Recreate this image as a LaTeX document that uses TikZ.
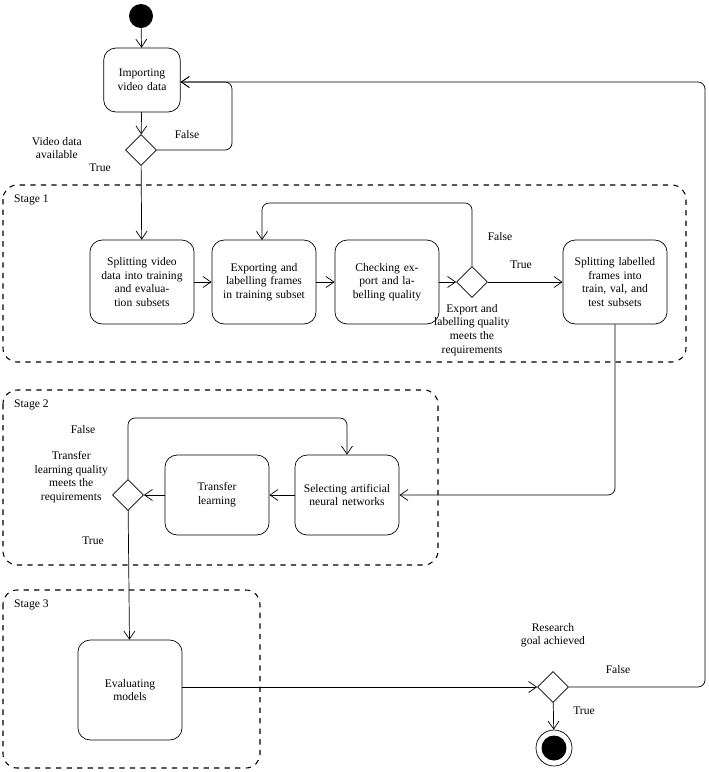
\documentclass[tikz,border=0pt]{standalone}
\usepackage{fontspec}
\setmainfont{Liberation Serif}
\usetikzlibrary{arrows.meta, positioning, shapes.geometric}

\begin{document}
\begin{tikzpicture}[
    x=0.02cm, y=-0.02cm,
    >={Straight Barb[length=1.6mm, width=2.2mm]},
    every node/.style={font=\fontsize{6.6}{7.8}\selectfont},
    action/.style={draw, rounded corners=7pt, align=center, minimum width=2.0cm, minimum height=1.68cm, text width=1.85cm},
    choice/.style={draw, diamond, minimum size=0.62cm, inner sep=0pt},
    stage/.style={draw, dashed, rounded corners=8pt, line width=0.6pt},
    lbl/.style={align=center},
    flow/.style={->, thin},
]
    \useasboundingbox (0,0) rectangle (708,772);

    % stages
    \draw[stage] (3,185) rectangle (686,362);
    \draw[stage] (3,390) rectangle (438,565);
    \draw[stage] (3,590) rectangle (260,768);
    \node[anchor=west] at (8,200) {Stage 1};
    \node[anchor=west] at (8,405) {Stage 2};
    \node[anchor=west] at (8,605) {Stage 3};

    % start and end
    \node[circle, fill, minimum size=0.48cm, inner sep=0pt] (start) at (141,16) {};
    \node[circle, draw, minimum size=0.72cm, inner sep=0pt] (stop) at (554,748) {};
    \node[circle, fill, minimum size=0.5cm, inner sep=0pt] at (stop) {};

    % actions
    \node[action, minimum width=1.42cm, text width=1.3cm, minimum height=1.28cm] (import) at (142,80) {Importing\\video data};
    \node[action] (split)  at (142,282) {Splitting video data into training and evaluation subsets};
    \node[action] (export) at (264,282) {Exporting and labelling frames in training subset};
    \node[action] (check)  at (387,282) {Checking export and labelling quality};
    \node[action] (frames) at (615,282) {Splitting labelled frames into train, val, and test subsets};
    \node[action, minimum height=1.6cm] (select)   at (347,495) {Selecting artificial neural networks};
    \node[action, minimum height=1.6cm] (transfer) at (217,495) {Transfer\\learning};
    \node[action, minimum height=2cm] (eval) at (130,690) {Evaluating\\models};

    % decisions
    \node[choice] (avail) at (141,150) {};
    \node[choice] (qual)  at (472,282) {};
    \node[choice] (tlq)   at (128,495) {};
    \node[choice] (goal)  at (553,687) {};

    % decision labels
    \node[lbl, anchor=east] at (88,148) {Video data\\available};
    \node at (100,168) {True};
    \node at (187,135) {False};
    \node[lbl, below=0pt of qual] {Export and\\labelling quality\\meets the\\requirements};
    \node at (500,237) {False};
    \node at (521,265) {True};
    \node[lbl, anchor=east] at (114,477) {Transfer\\learning quality\\meets the\\requirements};
    \node at (83,430) {False};
    \node at (93,541) {True};
    \node[lbl, above=10pt of goal] {Research\\goal achieved};
    \node at (618,670) {False};
    \node at (584,711) {True};

    % flows
    \draw[flow] (start) -- (import);
    \draw[flow] (import) -- (avail);
    \draw[flow, rounded corners=4pt] (avail.east) -| (232,82) -- (import.east |- 0,82);
    \draw[flow] (avail) -- (split);
    \draw[flow] (split) -- (export);
    \draw[flow] (export) -- (check);
    \draw[flow] (check) -- (qual);
    \draw[flow, rounded corners=4pt] (qual.north) |- (262,203) -- (262,240);
    \draw[flow] (qual) -- (frames);
    \draw[flow, rounded corners=4pt] (frames.south) |- (select.east);
    \draw[flow] (select) -- (transfer);
    \draw[flow] (transfer) -- (tlq);
    \draw[flow, rounded corners=4pt] (tlq.north) |- (347,418) -- (select.north);
    \draw[flow] (tlq) -- (eval);
    \draw[flow] (eval.east |- goal) -- (goal);
    \draw[flow] (goal) -- (stop);
    \draw[flow, rounded corners=4pt] (goal.east) -| (705,82) -- (import.east |- 0,82);
\end{tikzpicture}
\end{document}
